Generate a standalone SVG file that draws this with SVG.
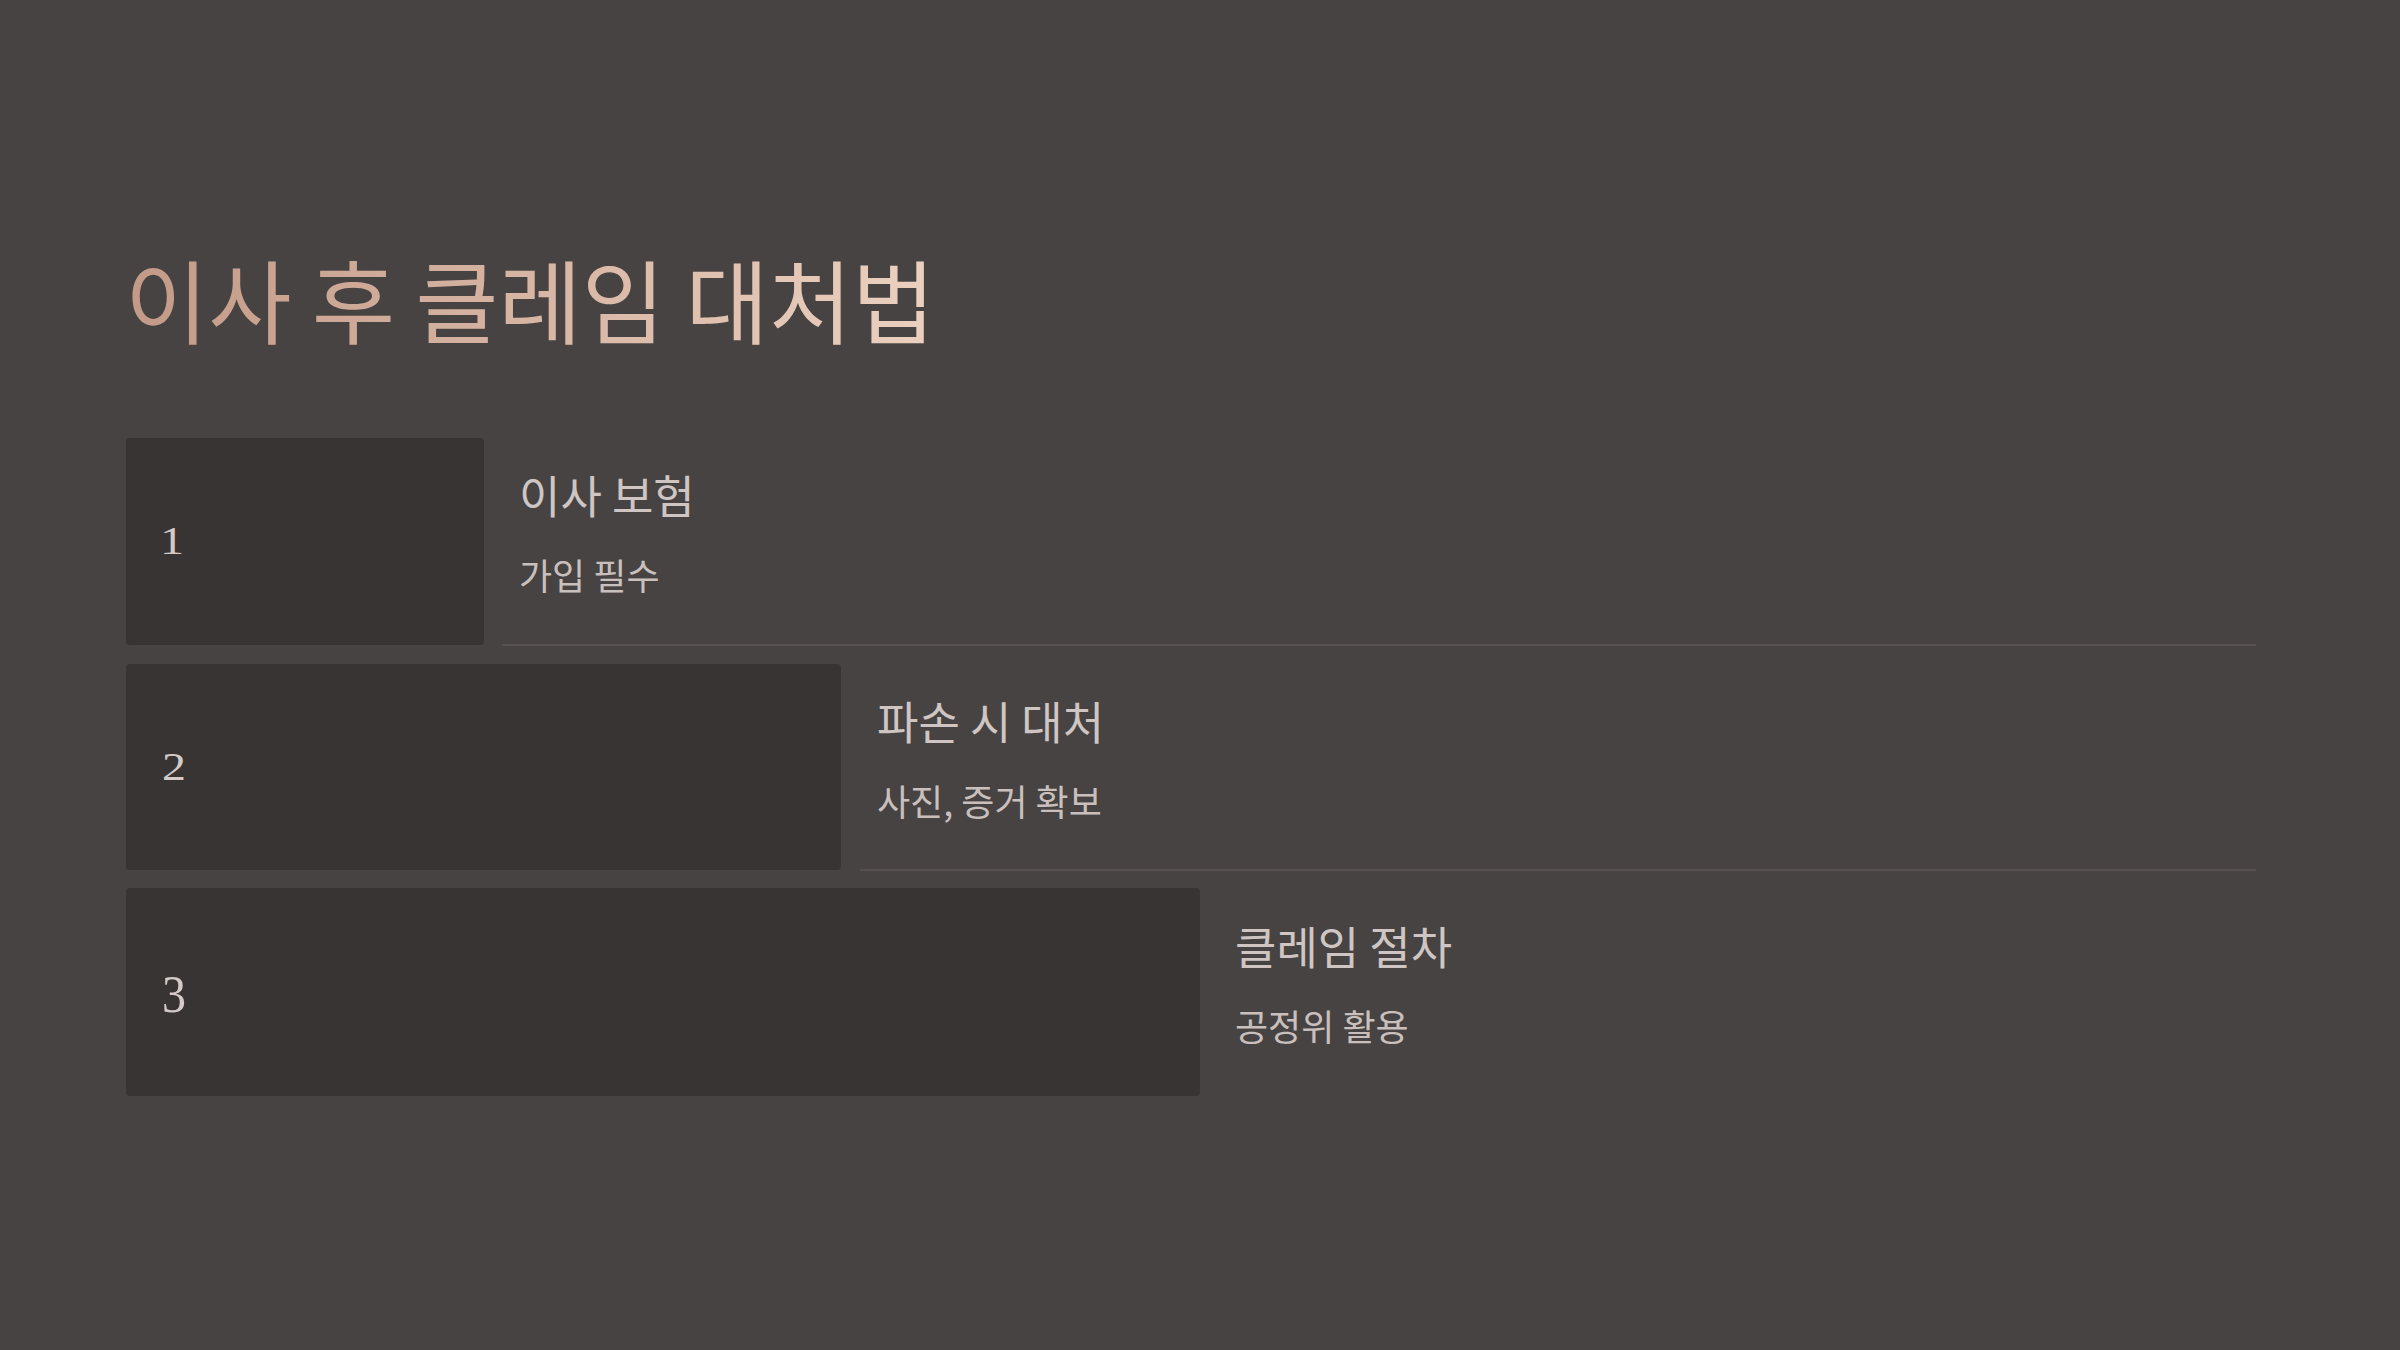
<svg xmlns="http://www.w3.org/2000/svg" width="2400" height="1350" viewBox="0 0 2400 1350">
  <defs>
    <linearGradient id="titleGrad" x1="128" y1="0" x2="930" y2="0" gradientUnits="userSpaceOnUse">
      <stop offset="0" stop-color="#c39a87"/>
      <stop offset="1" stop-color="#ebd0c0"/>
    </linearGradient>
    <style>
      .kr { font-family: "Noto Sans CJK KR", "Noto Sans", sans-serif; }
      .box { fill: #383433; }
      .num { font-family: "Liberation Serif", "DejaVu Serif", serif; font-size: 40px; fill: #d4cbc9; }
      .head { font-size: 45px; fill: #cfc6c4; }
      .sub { font-size: 36px; fill: #c9c0be; }
      .rule { stroke: #565150; stroke-width: 2; }
    </style>
  </defs>
  <rect width="2400" height="1350" fill="#474342"/>

  <g id="title">
    <text class="kr" x="125" y="337" font-size="90.5" fill="url(#titleGrad)">이사 후 클레임 대처법</text>
  </g>

  <g id="connectors">
    <line class="rule" x1="502" y1="645" x2="2256" y2="645"/>
    <line class="rule" x1="860" y1="870" x2="2256" y2="870"/>
  </g>

  <g id="step1">
    <rect class="box" x="126" y="438" width="358" height="207" rx="4"/>
    <text class="num" transform="translate(160,554) scale(1.2,1)" x="0" y="0">1</text>
    <text class="kr head" x="519" y="514">이사 보험</text>
    <text class="kr sub" x="519" y="590">가입 필수</text>
  </g>

  <g id="step2">
    <rect class="box" x="126" y="664" width="715" height="206" rx="4"/>
    <text class="num" transform="translate(162,780) scale(1.2,1)" x="0" y="0">2</text>
    <text class="kr head" x="877" y="740">파손 시 대처</text>
    <text class="kr sub" x="877" y="816">사진, 증거 확보</text>
  </g>

  <g id="step3">
    <rect class="box" x="126" y="888" width="1074" height="208" rx="4"/>
    <text class="num" transform="translate(162,1012) scale(1.2,1.33)" x="0" y="0">3</text>
    <text class="kr head" x="1235" y="965">클레임 절차</text>
    <text class="kr sub" x="1235" y="1041">공정위 활용</text>
  </g>
</svg>
